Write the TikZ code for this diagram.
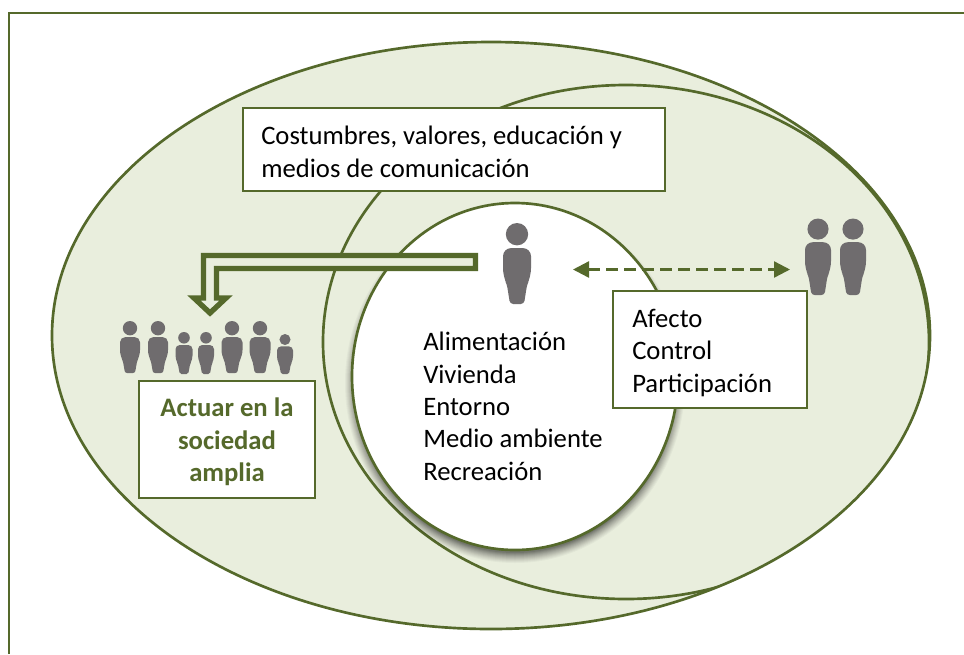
\documentclass[tikz,border=0pt]{standalone}
\usepackage{fontspec}
\setmainfont{Carlito}
\usetikzlibrary{arrows.meta}
\definecolor{lineg}{HTML}{55692B}
\definecolor{fillg}{HTML}{E9EEDD}
\definecolor{persong}{HTML}{6F6C6E}
\tikzset{
  x=0.75pt,y=-0.75pt,
  region/.style={draw=lineg,line width=2pt,fill=fillg},
  textbox/.style={draw=lineg,line width=1.6pt,fill=white,inner sep=0pt,anchor=north west},
  label/.style={font=\fontsize{20}{24.3}\selectfont,align=left,text=black,anchor=north west,inner sep=0pt},
  pics/person/.style n args={2}{code={
    \pgfmathsetmacro{\hw}{#1}\pgfmathsetmacro{\hh}{#2}
    \pgfmathsetmacro{\rr}{0.138*\hh}
    \pgfmathsetmacro{\ra}{0.1*\hh*0.75}
    \pgfmathsetmacro{\rb}{0.04*\hh*0.75}
    \fill[persong]  (0,\rr) circle[radius=\rr];
    \fill[persong]
      (0,0.31*\hh)
      [rounded corners=\ra pt] -- (\hw,0.31*\hh) -- (\hw,0.66*\hh)
      [rounded corners=\rb pt] -- (\hw*0.72,0.76*\hh) -- (\hw*0.5,1.0*\hh) -- (-\hw*0.5,1.0*\hh) -- (-\hw*0.72,0.76*\hh)
      [rounded corners=\ra pt] -- (-\hw,0.66*\hh) -- (-\hw,0.31*\hh)
      [sharp corners] -- cycle;
  }}
}
\begin{document}
\begin{tikzpicture}
\useasboundingbox (0,0) rectangle (964,654);
\draw[lineg,line width=2.2pt] (9,654) -- (9,13) -- (964,13);
\draw[region] (491,335.5) ellipse[x radius=439,y radius=293.5];
\begin{scope}
  \clip (491,335.5) ellipse[x radius=439,y radius=293.5];
  \draw[lineg,line width=2pt] (626,342) ellipse[x radius=303,y radius=257];
\end{scope}
\foreach \k/\o in {10/0.03,9/0.035,8/0.04,7/0.045,6/0.05,5/0.055,4/0.06,3/0.07,2/0.08,1/0.09,0/0.1}{
  \fill[black,opacity=\o] (515,383) ellipse[x radius=160+\k,y radius=170+\k];
}
\draw[draw=lineg,line width=2pt,fill=white] (515,376.5) ellipse[x radius=163,y radius=173.5];

\node[textbox,minimum width=422*0.75pt,minimum height=83*0.75pt] (top) at (242.3,106.5) {};
\node[label] (toptext) at (261,126) {Costumbres, valores, educación y\\medios de comunicación};
\node[textbox,minimum width=194*0.75pt,minimum height=117*0.75pt] (afecto) at (612,290) {};
\node[label] (afectotext) at (632,309) {Afecto\\Control\\Participación};
\node[textbox,minimum width=176*0.75pt,minimum height=117*0.75pt] (actuar) at (138.3,380) {};
\node[font=\fontsize{20}{24.3}\selectfont\bfseries,text=lineg,align=center,anchor=center,inner sep=0pt] (actuartext) at (227,442) {Actuar en la\\sociedad\\amplia};
\node[label] (list) at (423,332) {Alimentación\\Vivienda\\Entorno\\Medio ambiente\\Recreación};

\draw[lineg,line width=4pt,fill=fillg,miter limit=10]
  (475.5,255.5) -- (203.5,255.5) -- (203.5,298) -- (194,298) -- (210,313) -- (226,298) -- (216.5,298) -- (216.5,268.5) -- (475.5,268.5) -- cycle;

\coordinate (dl) at (573,269.5);
\coordinate (dr) at (790,269.5);
\draw[lineg,line width=1.8pt,dash pattern=on 8.5pt off 5pt,
  {Triangle[length=12pt,width=12pt]}-{Triangle[length=12pt,width=12pt]}] (dl) -- (dr);

\pic at (517,223) {person={14}{81}};
\pic at (818,218.5) {person={13}{76.5}};
\pic at (853,218.5) {person={13}{76.5}};
\pic at (130,321) {person={10}{52}};
\pic at (158,321) {person={10}{52}};
\pic at (184,332) {person={8.5}{42}};
\pic at (206,332) {person={8}{42}};
\pic at (232,321) {person={10.5}{52}};
\pic at (260,321) {person={10.5}{52}};
\pic at (285,334) {person={8}{40}};
\end{tikzpicture}
\end{document}
